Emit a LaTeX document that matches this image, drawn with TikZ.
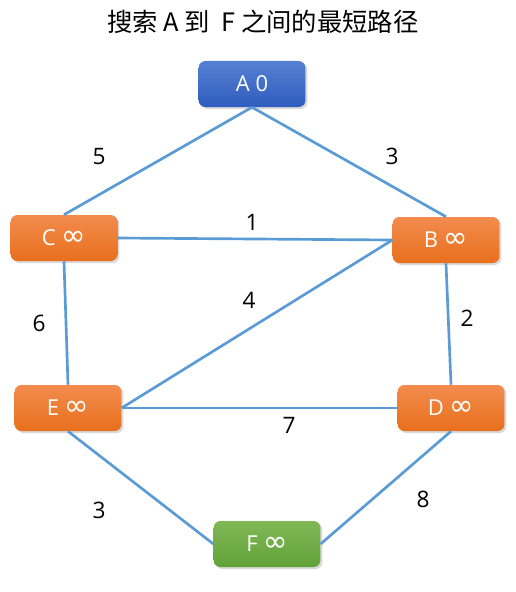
\documentclass[tikz,border=0pt]{standalone}
\usepackage{fontspec}
\setmainfont{Open Sans}
\newfontfamily\cjk{Noto Sans CJK SC}
\newfontfamily\symfont{DejaVu Sans}
\usepackage{xcolor}
\usetikzlibrary{shadows, positioning}

\definecolor{linkblue}{HTML}{5B9BD5}
\definecolor{bluetop}{HTML}{5680D2}
\definecolor{bluebot}{HTML}{2F5DBF}
\definecolor{orangetop}{HTML}{F28C4E}
\definecolor{orangebot}{HTML}{E86F1C}
\definecolor{greentop}{HTML}{80B856}
\definecolor{greenbot}{HTML}{62A23A}

\newcommand{\infsym}{{\symfont\fontsize{22pt}{22pt}\selectfont ∞}}

\begin{document}
\begin{tikzpicture}[
    x=0.75pt, y=-0.75pt,
    every node/.style={
        font=\fontsize{16.5pt}{20pt}\selectfont,
        align=center
    },
    vertex/.style={
        rectangle,
        rounded corners=5pt,
        minimum width=80pt,
        minimum height=34.5pt,
        inner sep=2pt,
        text=white,
        drop shadow={opacity=0.3, shadow xshift=1.5pt, shadow yshift=-1.5pt}
    },
    start/.style={
        vertex,
        top color=bluetop,
        bottom color=bluebot
    },
    open/.style={
        vertex,
        top color=orangetop,
        bottom color=orangebot
    },
    goal/.style={
        vertex,
        top color=greentop,
        bottom color=greenbot
    },
    link/.style={
        draw=linkblue,
        line width=2pt
    },
    weight/.style={
        text=black,
        font=\fontsize{17pt}{20pt}\selectfont
    }
]

\useasboundingbox (0,0) rectangle (515,592);

\node[font=\cjk\fontsize{19pt}{22pt}\selectfont] (titulo) at (263,22)
    {搜索 A 到\ \ F 之间的最短路径};

\node[start] (A) at (252,84) {A 0};
\node[open]  (C) at (64,238) {C \infsym};
\node[open]  (B) at (446,240) {B \infsym};
\node[open]  (E) at (68,408) {E \infsym};
\node[open]  (D) at (451,408) {D \infsym};
\node[goal]  (F) at (267,544) {F \infsym};

\draw[link] (A.south) -- (C.north);
\draw[link] (A.south) -- (B.north);
\draw[link] (C.east) -- (B.west);
\draw[link] (B.west) -- (E.east);
\draw[link] (E.east) -- (D.west);
\draw[link] (C.south) -- (E.north);
\draw[link] (B.south) -- (D.north);
\draw[link] (E.south) -- (F.west);
\draw[link] (D.south) -- (F.east);

\node[weight] (wAC) at (99,157) {5};
\node[weight] (wAB) at (392,156) {3};
\node[weight] (wCB) at (252,222) {1};
\node[weight] (wBE) at (249,300) {4};
\node[weight] (wCE) at (39,323) {6};
\node[weight] (wBD) at (467,318) {2};
\node[weight] (wED) at (289,425) {7};
\node[weight] (wEF) at (99,510) {3};
\node[weight] (wDF) at (423,499) {8};

\end{tikzpicture}
\end{document}
